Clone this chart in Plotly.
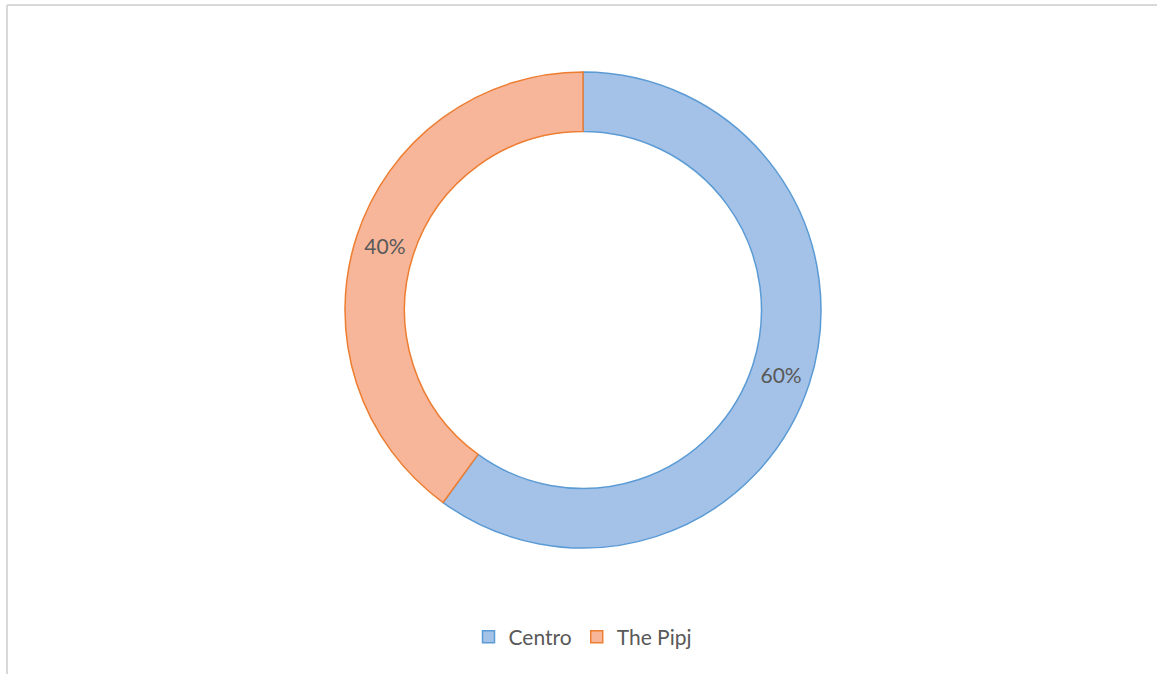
import plotly.graph_objects as go

# Share of visits by location
labels = ["Centro", "The Pipj"]
values = [60, 40]
fill_colors = ["#a4c2e7", "#f7b699"]
edge_colors = ["#5b9bd5", "#ed7d31"]

FONT = "Lato, 'Open Sans', sans-serif"
TEXT_GREY = "#595959"

fig = go.Figure(
    go.Pie(
        labels=labels,
        values=values,
        hole=0.75,
        sort=False,
        direction="clockwise",
        rotation=0,
        marker=dict(colors=fill_colors, line=dict(color=edge_colors, width=1.5)),
        textinfo="percent",
        textposition="inside",
        insidetextorientation="horizontal",
        textfont=dict(family=FONT, size=21, color=TEXT_GREY),
        hoverinfo="label+percent",
    )
)

# Light frame along the top and left edges of the chart area
fig.add_shape(type="line", xref="paper", yref="paper",
              x0=-2 / 1148, x1=1.1, y0=(548 - 5) / 476, y1=(548 - 5) / 476,
              line=dict(color="#d9d9d9", width=2))
fig.add_shape(type="line", xref="paper", yref="paper",
              x0=-2 / 1148, x1=-2 / 1148, y0=(548 - 5) / 476, y1=-0.5,
              line=dict(color="#d9d9d9", width=2))

fig.update_layout(
    width=1157,
    height=674,
    margin=dict(l=9, r=0, t=72, b=126),
    paper_bgcolor="white",
    plot_bgcolor="white",
    showlegend=True,
    legend=dict(
        orientation="h",
        x=0.5,
        xanchor="center",
        y=(548 - 637) / 476,
        yanchor="middle",
        font=dict(family=FONT, size=21, color=TEXT_GREY),
        itemwidth=30,
        traceorder="normal",
    ),
)

fig.write_html("out.html")
